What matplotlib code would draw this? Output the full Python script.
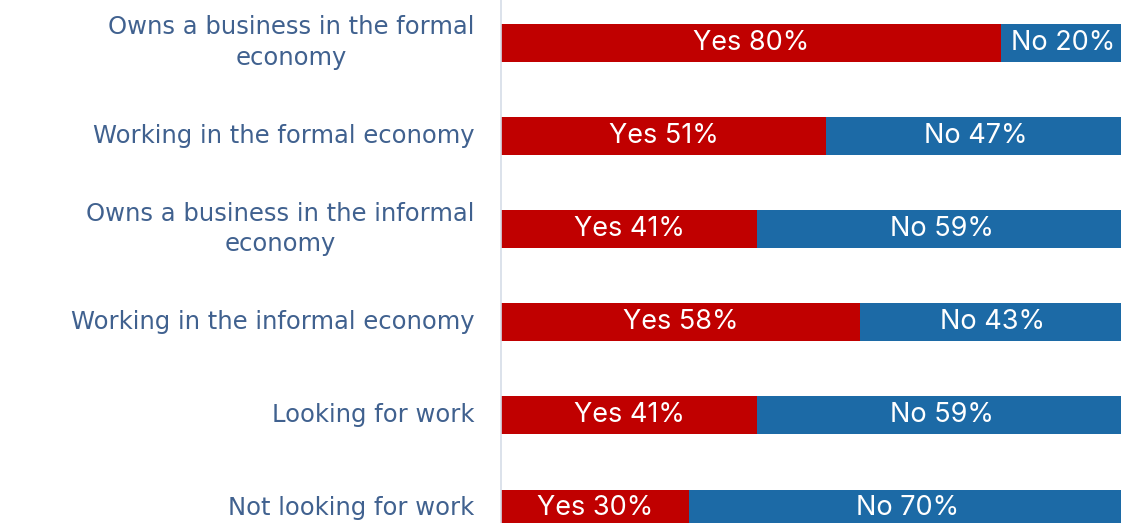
import matplotlib.pyplot as plt
import numpy as np

# Survey answers per employment status (percent)
categories = [
    'Owns a business in the formal\neconomy',
    'Working in the formal economy',
    'Owns a business in the informal\neconomy',
    'Working in the informal economy',
    'Looking for work',
    'Not looking for work',
]
yes_pct = [80, 51, 41, 58, 41, 30]
no_pct = [20, 47, 59, 43, 59, 70]

yes_color = '#C00000'
no_color = '#1C6AA6'
label_color = '#40618F'

yes_arr = np.array(yes_pct, dtype=float)
no_arr = np.array(no_pct, dtype=float)
total = yes_arr + no_arr
# 100% stacked: each row scaled to its own total
yes_share = yes_arr / total * 100
no_share = no_arr / total * 100

fig = plt.figure(figsize=(11.21, 5.23), dpi=100)
ax = fig.add_axes([501 / 1121, 0, 620 / 1121, 1])

y = np.arange(len(categories))
ax.barh(y, yes_share, height=0.4, color=yes_color, edgecolor='none')
ax.barh(y, no_share, left=yes_share, height=0.4, color=no_color, edgecolor='none')

for i in range(len(categories)):
    ax.text(yes_share[i] / 2, y[i], f'Yes {yes_pct[i]}%', ha='center', va='center',
            color='white', fontsize=19.5, family='Inter')
    ax.text(yes_share[i] + no_share[i] / 2, y[i], f'No {no_pct[i]}%', ha='center', va='center',
            color='white', fontsize=19.5, family='Inter')

# category names to the left of the axis line
for i, name in enumerate(categories):
    ax.text(-0.043, y[i] - 0.005, name, transform=ax.get_yaxis_transform(),
            ha='right', va='center', multialignment='center', linespacing=1.32,
            fontsize=17.5, color=label_color, family='DejaVu Sans')

ax.set_xlim(0, 99.2)
ax.set_ylim(5.16, -0.462)
ax.set_xticks([])
ax.set_yticks([])

for side in ['top', 'right', 'bottom']:
    ax.spines[side].set_visible(False)
ax.spines['left'].set_color('#D5DDE8')
ax.spines['left'].set_linewidth(1.2)

fig.savefig('out.png', dpi=100)
